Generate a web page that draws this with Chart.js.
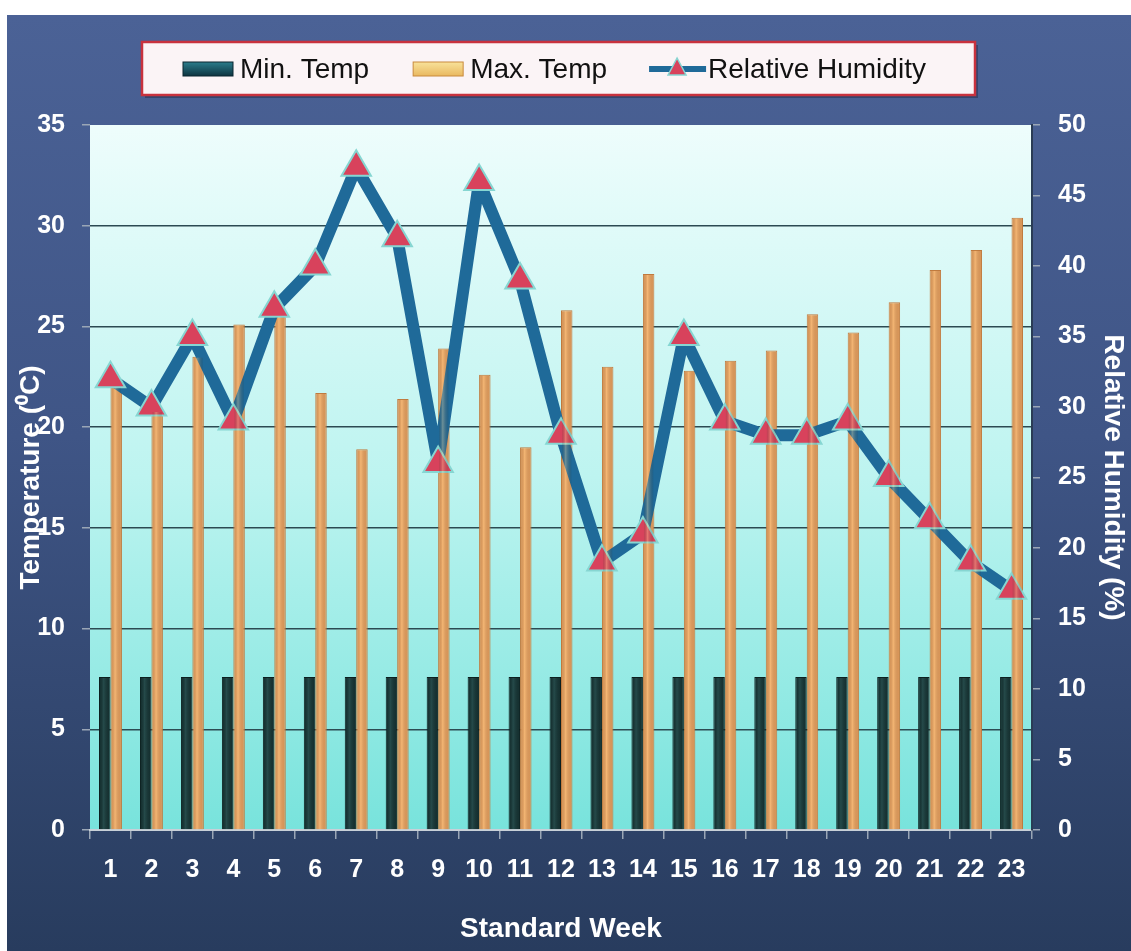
<!DOCTYPE html>
<html>
<head>
<meta charset="utf-8">
<script src="https://cdn.jsdelivr.net/npm/chart.js@4.4.1/dist/chart.umd.min.js"></script>
<style>
  html, body { margin: 0; padding: 0; background: #fff; }
  #wrap { position: absolute; left: 7px; top: 15px; width: 1124px; height: 936px;
    background: linear-gradient(to bottom, #4b6296 0%, #3f5586 45%, #283c5e 100%); }
</style>
</head>
<body>
<div id="wrap"><canvas id="myChart" width="1124" height="936"></canvas></div>
<script>
var weeks = ['1','2','3','4','5','6','7','8','9','10','11','12','13','14','15','16','17','18','19','20','21','22','23'];
var minTemp = [7.6, 7.6, 7.6, 7.6, 7.6, 7.6, 7.6, 7.6, 7.6, 7.6, 7.6, 7.6, 7.6, 7.6, 7.6, 7.6, 7.6, 7.6, 7.6, 7.6, 7.6, 7.6, 7.6];
var maxTemp = [22, 20.8, 23.5, 25.1, 25.5, 21.7, 18.9, 21.4, 23.9, 22.6, 19.0, 25.8, 23.0, 27.6, 22.8, 23.3, 23.8, 25.6, 24.7, 26.2, 27.8, 28.8, 30.4];
var humidity = [32, 30, 35, 29, 37, 40, 47, 42, 26, 46, 39, 28, 19, 21, 35, 29, 28, 28, 29, 25, 22, 19, 17];

const FONT = '"Liberation Sans", Arial, sans-serif';

// plot background, bar shading, legend box
const backdrop = {
  id: 'backdrop',
  beforeDraw(chart) {
    const ctx = chart.ctx, a = chart.chartArea;
    ctx.save();
    var g = ctx.createLinearGradient(0, a.top, 0, a.bottom);
    g.addColorStop(0, '#eefdfc');
    g.addColorStop(0.5, '#bdf4f0');
    g.addColorStop(1, '#78e3dc');
    ctx.fillStyle = g;
    ctx.fillRect(a.left, a.top, a.right - a.left, a.bottom - a.top);
    ctx.restore();
  },
  afterDatasetsDraw(chart) {
    // light cylinder shading on the bars the library placed
    const ctx = chart.ctx;
    ctx.save();
    [0, 1].forEach(function (i) {
      chart.getDatasetMeta(i).data.forEach(function (bar) {
        var p = bar.getProps(['x', 'y', 'base', 'width'], true);
        var l = p.x - p.width / 2;
        var sh = ctx.createLinearGradient(l, 0, l + p.width, 0);
        sh.addColorStop(0, 'rgba(0,0,0,0.05)');
        sh.addColorStop(0.4, i ? 'rgba(255,215,150,0.35)' : 'rgba(90,160,160,0.22)');
        sh.addColorStop(1, 'rgba(0,0,0,0.06)');
        ctx.fillStyle = sh;
        ctx.fillRect(l + 1, p.y + 1, p.width - 2, p.base - p.y - 1);
      });
    });
    ctx.restore();
  },
  afterDraw(chart) {
    const ctx = chart.ctx;
    ctx.save();
    ctx.fillStyle = 'rgba(20,20,40,0.35)';
    ctx.fillRect(138, 30, 833, 53);
    ctx.fillStyle = '#fbf4f6';
    ctx.fillRect(135, 27, 833, 53);
    ctx.strokeStyle = '#c8323e';
    ctx.lineWidth = 2.5;
    ctx.strokeRect(135, 27, 833, 53);

    ctx.font = '28px ' + FONT;
    ctx.textBaseline = 'middle';
    var x = 176, cy = 54;
    var ds = chart.data.datasets;

    var g1 = ctx.createLinearGradient(0, cy - 7, 0, cy + 7);
    g1.addColorStop(0, '#2b7d8c'); g1.addColorStop(1, '#0d3440');
    ctx.fillStyle = g1; ctx.fillRect(x, cy - 7, 50, 14);
    ctx.strokeStyle = '#0a2630'; ctx.lineWidth = 1; ctx.strokeRect(x, cy - 7, 50, 14);
    ctx.fillStyle = '#111';
    ctx.fillText(ds[0].label, x + 57, cy + 1);
    x += 57 + ctx.measureText(ds[0].label).width + 44;

    var g2 = ctx.createLinearGradient(0, cy - 7, 0, cy + 7);
    g2.addColorStop(0, '#f8e29a'); g2.addColorStop(1, '#e9b860');
    ctx.fillStyle = g2; ctx.fillRect(x, cy - 7, 50, 14);
    ctx.strokeStyle = '#c98a3c'; ctx.strokeRect(x, cy - 7, 50, 14);
    ctx.fillStyle = '#111';
    ctx.fillText(ds[1].label, x + 57, cy + 1);
    x += 57 + ctx.measureText(ds[1].label).width + 42;

    ctx.strokeStyle = ds[2].borderColor; ctx.lineWidth = 6;
    ctx.beginPath(); ctx.moveTo(x, cy); ctx.lineTo(x + 57, cy); ctx.stroke();
    var tx = x + 28;
    ctx.beginPath();
    ctx.moveTo(tx, cy - 11); ctx.lineTo(tx + 9, cy + 6); ctx.lineTo(tx - 9, cy + 6); ctx.closePath();
    ctx.fillStyle = ds[2].pointBackgroundColor; ctx.fill();
    ctx.strokeStyle = ds[2].pointBorderColor; ctx.lineWidth = 1.5; ctx.stroke();
    ctx.fillStyle = '#111';
    ctx.fillText(ds[2].label, x + 59, cy + 1);
    ctx.restore();
  }
};

const tickFont = { family: FONT, size: 25, weight: 'bold' };
const titleFont = { family: FONT, size: 28, weight: 'bold' };

const ctx = document.getElementById('myChart');
const myChart = new Chart(ctx, {
  type: 'bar',
  data: {
    labels: weeks,
    datasets: [
      { label: 'Min. Temp', data: minTemp, yAxisID: 'y', order: 1,
        backgroundColor: '#163232', borderColor: '#0b1e1e', borderWidth: 1,
        barPercentage: 1, categoryPercentage: 0.56 },
      { label: 'Max. Temp', data: maxTemp, yAxisID: 'y', order: 1,
        backgroundColor: '#eea461', borderColor: '#c07a3e', borderWidth: 1,
        barPercentage: 1, categoryPercentage: 0.56 },
      { label: 'Relative Humidity', type: 'line', data: humidity, yAxisID: 'y1', order: 0,
        borderColor: '#1f6a99', borderWidth: 12, borderJoinStyle: 'round', tension: 0,
        pointStyle: 'triangle', pointRadius: 17, pointHoverRadius: 17,
        pointBackgroundColor: '#d8425c', pointBorderColor: '#86d6d2', pointBorderWidth: 2 }
    ]
  },
  options: {
    responsive: false,
    animation: false,
    devicePixelRatio: 1,
    events: [],
    layout: { padding: { top: 110, left: 0, right: 0, bottom: 0 } },
    plugins: { legend: { display: false }, tooltip: { enabled: false } },
    scales: {
      x: {
        afterFit: (s) => { s.height = 121; },
        grid: { offset: true, drawOnChartArea: false, tickLength: 9, tickColor: '#9aa6b6', lineWidth: 1.5 },
        border: { color: '#c8d0d8', width: 2 },
        ticks: { color: '#ffffff', font: tickFont, padding: 16, maxRotation: 0, autoSkip: false },
        title: { display: true, text: 'Standard Week', color: '#ffffff', font: titleFont,
                 padding: { top: 0, bottom: 5 } }
      },
      y: {
        position: 'left',
        min: 0, max: 35,
        afterFit: (s) => { s.width = 83; },
        grid: {
          color: (c) => (c.tick && (c.tick.value === 35 || c.tick.value === 0)) ? 'rgba(0,0,0,0)' : '#2c4a52',
          lineWidth: 1.5, tickLength: 8, tickColor: '#9aa6b6'
        },
        border: { display: false },
        ticks: { stepSize: 5, color: '#ffffff', font: tickFont, padding: 17 },
        title: { display: true, text: 'Temperature (\u2070C)', color: '#ffffff', font: titleFont,
                 padding: { top: 7, bottom: 0 } }
      },
      y1: {
        position: 'right',
        min: 0, max: 50,
        afterFit: (s) => { s.width = 99; },
        grid: { drawOnChartArea: false, tickLength: 8, tickColor: '#9aa6b6', lineWidth: 1.5 },
        border: { color: '#2a3c55', width: 2 },
        ticks: { stepSize: 5, color: '#ffffff', font: tickFont, padding: 18 },
        title: { display: true, text: 'Relative Humidity (%)', color: '#ffffff', font: titleFont,
                 padding: { top: 1, bottom: 0 } }
      }
    }
  },
  plugins: [backdrop]
});
</script>
</body>
</html>
